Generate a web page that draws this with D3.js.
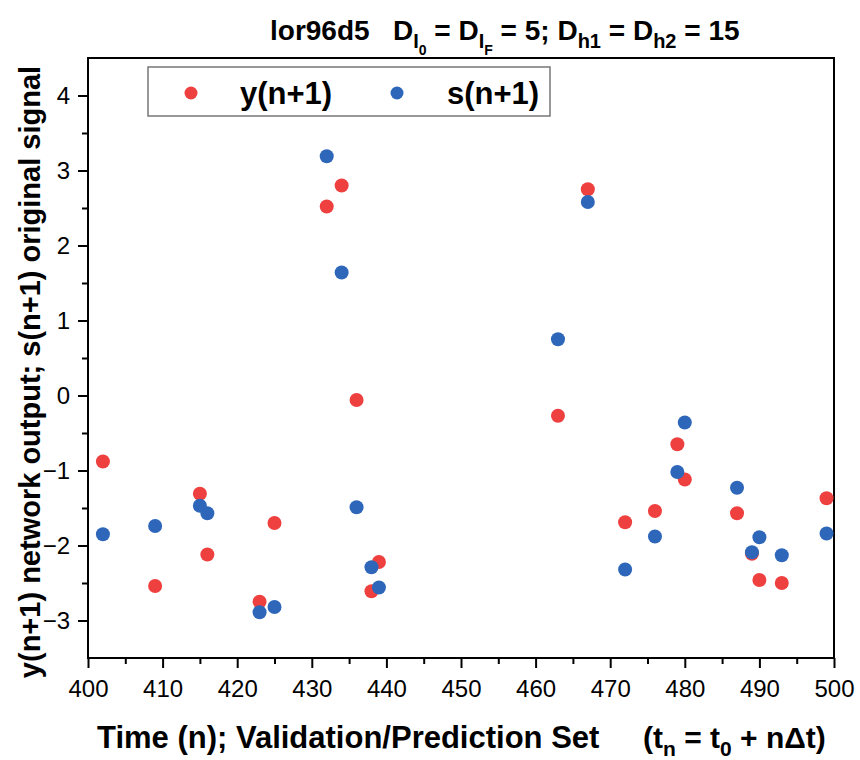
<!DOCTYPE html>
<html>
<head>
<meta charset="utf-8">
<script src="https://cdn.jsdelivr.net/npm/d3@7"></script>
<style>
  body { margin: 0; background: #fff; }
  text { font-family: "Liberation Sans", Arial, sans-serif; white-space: pre; }
</style>
</head>
<body>
<svg id="chart"></svg>
<script>
const width = 860;
const height = 760;

// time steps n (validation/prediction set)
const steps = [402, 409, 415, 416, 423, 425, 432, 434, 436, 438, 439,
               463, 467, 472, 476, 479, 480, 487, 489, 490, 493, 499];
// y(n+1) network output
const yOut = [-0.88, -2.54, -1.31, -2.12, -2.75, -1.70, 2.52, 2.80, -0.06, -2.61, -2.22,
              -0.27, 2.75, -1.69, -1.54, -0.65, -1.12, -1.57, -2.11, -2.46, -2.50, -1.37];
// s(n+1) original signal
const sOrig = [-1.85, -1.74, -1.47, -1.57, -2.89, -2.82, 3.19, 1.64, -1.49, -2.29, -2.56,
               0.75, 2.58, -2.32, -1.88, -1.02, -0.36, -1.23, -2.09, -1.89, -2.13, -1.84];

const xTicks = [400, 410, 420, 430, 440, 450, 460, 470, 480, 490, 500];
const yTicks = [-3, -2, -1, 0, 1, 2, 3, 4];

const red = "#ef4040";
const blue = "#2e67ba";

const margin = {left: 88, right: 26, top: 58, bottom: 102};

const svg = d3.select("#chart")
    .attr("width", width)
    .attr("height", height);

const x = d3.scaleLinear()
    .domain([400, 500])
    .range([margin.left, width - margin.right]);

const y = d3.scaleLinear()
    .domain([-3.5, 4.5])
    .range([height - margin.bottom, margin.top]);

// minor ticks
svg.append("g")
    .attr("transform", `translate(0,${height - margin.bottom})`)
    .call(d3.axisBottom(x).tickValues(d3.range(405, 500, 10)).tickSize(6).tickFormat(""))
    .call(g => g.select(".domain").remove())
    .call(g => g.selectAll("line").attr("stroke-width", 2));

svg.append("g")
    .attr("transform", `translate(${margin.left},0)`)
    .call(d3.axisLeft(y).tickValues(d3.range(-2.5, 4.5, 1)).tickSize(6).tickFormat(""))
    .call(g => g.select(".domain").remove())
    .call(g => g.selectAll("line").attr("stroke-width", 2));

// major ticks
svg.append("g")
    .attr("transform", `translate(0,${height - margin.bottom})`)
    .call(d3.axisBottom(x).tickValues(xTicks).tickSize(10).tickPadding(12))
    .call(g => g.select(".domain").remove())
    .call(g => g.selectAll("line").attr("stroke-width", 2))
    .call(g => g.selectAll("text").attr("font-size", 24).attr("fill", "#000")
        .style("font-family", "Liberation Sans, Arial, sans-serif"));

svg.append("g")
    .attr("transform", `translate(${margin.left},0)`)
    .call(d3.axisLeft(y).tickValues(yTicks).tickSize(10).tickPadding(8))
    .call(g => g.select(".domain").remove())
    .call(g => g.selectAll("line").attr("stroke-width", 2))
    .call(g => g.selectAll("text").attr("font-size", 24).attr("fill", "#000")
        .style("font-family", "Liberation Sans, Arial, sans-serif"));

// frame
svg.append("rect")
    .attr("x", margin.left)
    .attr("y", margin.top)
    .attr("width", width - margin.left - margin.right)
    .attr("height", height - margin.top - margin.bottom)
    .attr("fill", "none")
    .attr("stroke", "#000")
    .attr("stroke-width", 2);

// points: red first, blue on top
svg.append("g")
    .selectAll("circle")
    .data(steps)
    .join("circle")
    .attr("cx", d => x(d))
    .attr("cy", (d, i) => y(yOut[i]))
    .attr("r", 7)
    .attr("fill", red);

svg.append("g")
    .selectAll("circle")
    .data(steps)
    .join("circle")
    .attr("cx", d => x(d))
    .attr("cy", (d, i) => y(sOrig[i]))
    .attr("r", 7)
    .attr("fill", blue);

// legend
const legend = svg.append("g");
legend.append("rect")
    .attr("x", 148).attr("y", 67)
    .attr("width", 402).attr("height", 49)
    .attr("fill", "#fff")
    .attr("stroke", "#777")
    .attr("stroke-width", 1.5);

const legendItems = [
    {label: "y(n+1)", color: red, dot: 191, tx: 240},
    {label: "s(n+1)", color: blue, dot: 397, tx: 447}
];
legendItems.forEach(d => {
    legend.append("circle")
        .attr("cx", d.dot).attr("cy", 93).attr("r", 6.5)
        .attr("fill", d.color);
    legend.append("text")
        .attr("x", d.tx).attr("y", 104)
        .attr("font-size", 31)
        .attr("font-weight", "bold")
        .text(d.label);
});

// title
const title = svg.append("text")
    .attr("x", 270).attr("y", 40)
    .attr("font-size", 28)
    .attr("font-weight", "bold");

function sub(parent, base, s1, s2) {
    parent.append("tspan").text(base);
    parent.append("tspan").attr("dy", 8).attr("font-size", 20).text(s1);
    let back = -8;
    if (s2) {
        parent.append("tspan").attr("dy", 7).attr("font-size", 14).text(s2);
        back = -15;
    }
    return back;
}
title.append("tspan").text("lor96d5   ");
let b = sub(title, "D", "I", "0");
title.append("tspan").attr("dy", b).text(" = ");
b = sub(title, "D", "I", "F");
title.append("tspan").attr("dy", b).text(" = 5; ");
b = sub(title, "D", "h1");
title.append("tspan").attr("dy", b).text(" = ");
b = sub(title, "D", "h2");
title.append("tspan").attr("dy", b).text(" = 15");

// x axis label
svg.append("text")
    .attr("x", 97).attr("y", 748)
    .attr("font-size", 31)
    .attr("font-weight", "bold")
    .text("Time (n); Validation/Prediction Set");

const xl2 = svg.append("text")
    .attr("x", 643).attr("y", 748)
    .attr("font-size", 30)
    .attr("font-weight", "bold");
xl2.append("tspan").text("(t");
xl2.append("tspan").attr("dy", 8).attr("font-size", 21).text("n");
xl2.append("tspan").attr("dy", -8).text(" = t");
xl2.append("tspan").attr("dy", 8).attr("font-size", 21).text("0");
xl2.append("tspan").attr("dy", -8).text(" + n\u0394t)");

// y axis label
svg.append("text")
    .attr("transform", "translate(40,372) rotate(-90)")
    .attr("text-anchor", "middle")
    .attr("font-size", 29)
    .attr("font-weight", "bold")
    .text("y(n+1) network output; s(n+1) original signal");
</script>
</body>
</html>
